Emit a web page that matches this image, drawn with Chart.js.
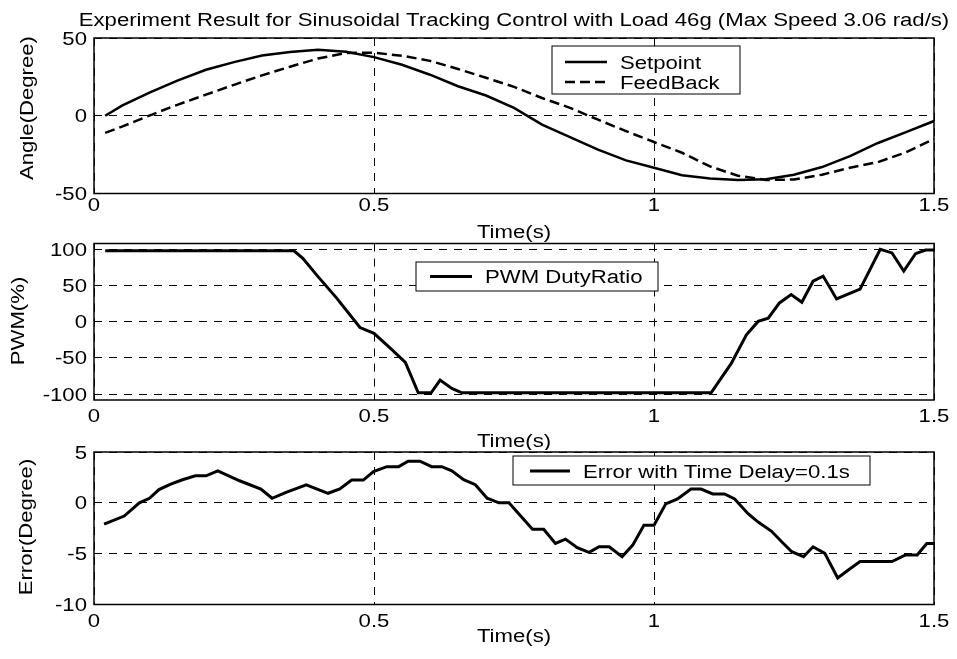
<!DOCTYPE html>
<html>
<head>
<meta charset="utf-8">
<title>Sinusoidal Tracking Control</title>
<script src="https://cdn.jsdelivr.net/npm/chart.js@4.4.1/dist/chart.umd.min.js"></script>
<style>
  html, body { margin: 0; padding: 0; background: #fff; }
  #wrap { position: relative; width: 957px; height: 659px; }
  canvas { position: absolute; left: 0; }
</style>
</head>
<body>
<div id="wrap">
  <canvas id="angle" width="957" height="242" style="top:0px"></canvas>
  <canvas id="pwm" width="957" height="210" style="top:240px"></canvas>
  <canvas id="err" width="957" height="219" style="top:440px"></canvas>
</div>
<script>
// angle panel: setpoint vs feedback (degree)
const timeAngle = [0.02, 0.05, 0.1, 0.15, 0.2, 0.25, 0.3, 0.35, 0.4, 0.45, 0.5, 0.55, 0.6, 0.65, 0.7, 0.75,
                   0.8, 0.85, 0.9, 0.95, 1.0, 1.05, 1.1, 1.15, 1.2, 1.25, 1.3, 1.35, 1.4, 1.45, 1.5];
const setpoint = [0, 6.5, 15, 22.8, 29.6, 34.5, 38.8, 41, 42.5, 41.2, 37.7, 32.8, 26.4, 19, 13, 5,
                  -5.7, -13.7, -21.8, -28.7, -33.4, -38.3, -40.4, -41.3, -40.9, -37.9, -33, -26, -17.5, -10.5, -3.4];
const feedback = [-11, -7, 0.3, 7.2, 13.6, 19.9, 26, 31.5, 36.8, 40.4, 40.5, 38.6, 35.3, 30.1, 24.4, 18.6,
                  11.4, 5.1, -2.5, -9.9, -16.9, -23.8, -32.6, -38.6, -41.3, -41, -37.9, -33.4, -29.8, -23.5, -15];

// pwm panel (%)
const timePwm = [0.02, 0.357, 0.373, 0.397, 0.433, 0.475, 0.5, 0.529, 0.556, 0.579, 0.602, 0.618, 0.639, 0.657,
                 1.102, 1.138, 1.165, 1.186, 1.204, 1.224, 1.245, 1.264, 1.284, 1.302, 1.326, 1.368, 1.404,
                 1.425, 1.446, 1.467, 1.485, 1.5];
const pwmDuty = [98, 98, 87.5, 65, 33, -8, -16, -36.5, -56, -98, -98, -80.5, -92, -98,
                 -98, -57.5, -18, 0.5, 5, 26, 37.5, 27, 56, 63, 31.5, 45, 100,
                 95, 70, 94, 99, 99];

// tracking error panel (degree)
const timeErr = [0.018, 0.054, 0.081, 0.099, 0.116, 0.137, 0.158, 0.181, 0.2, 0.221, 0.26, 0.298, 0.318, 0.343,
                 0.379, 0.418, 0.439, 0.46, 0.481, 0.499, 0.523, 0.544, 0.561, 0.582, 0.603, 0.621, 0.639, 0.66,
                 0.681, 0.702, 0.723, 0.741, 0.783, 0.803, 0.824, 0.842, 0.863, 0.884, 0.902, 0.92, 0.943, 0.962,
                 0.982, 1.0, 1.021, 1.042, 1.066, 1.084, 1.105, 1.126, 1.144, 1.168, 1.186, 1.21, 1.228, 1.246,
                 1.267, 1.284, 1.305, 1.328, 1.347, 1.368, 1.389, 1.425, 1.449, 1.47, 1.487, 1.5];
const errDelay = [-2.1, -1.3, 0, 0.45, 1.3, 1.85, 2.27, 2.66, 2.66, 3.15, 2.17, 1.36, 0.45, 1.03,
                  1.78, 0.94, 1.36, 2.24, 2.24, 3.08, 3.56, 3.56, 4.09, 4.09, 3.56, 3.56, 3.15, 2.27,
                  1.78, 0.45, 0, 0, -2.6, -2.6, -4, -3.57, -4.42, -4.87, -4.32, -4.32, -5.3, -4.16,
                  -2.2, -2.2, -0.1, 0.39, 1.36, 1.36, 0.88, 0.88, 0.39, -1.07, -1.89, -2.8, -3.83, -4.81,
                  -5.3, -4.32, -4.97, -7.4, -6.6, -5.78, -5.78, -5.78, -5.13, -5.13, -4, -4];

// tick labels
const timeTicks = [0, 0.5, 1, 1.5];
const angleTicks = [-50, 0, 50];
const pwmTicks = [-100, -50, 0, 50, 100];
const errTicks = [-10, -5, 0, 5];

const SX = 1.23;  // wide glyphs
const FONT = '18px "Liberation Sans", Arial, sans-serif';

function putText(ctx, str, x, y, align, rotate) {
  ctx.save();
  ctx.translate(x, y);
  if (rotate) ctx.rotate(-Math.PI / 2);
  ctx.scale(SX, 1);
  ctx.font = FONT;
  ctx.fillStyle = '#000';
  ctx.textAlign = align;
  ctx.textBaseline = rotate ? 'middle' : 'alphabetic';
  ctx.fillText(str, 0, 0);
  ctx.restore();
}

const pts = (xs, ys) => xs.map((x, i) => ({ x: x, y: ys[i] }));
const fixTicks = list => scale => { scale.ticks = list.map(v => ({ value: v })); };

// frame, tick labels, axis titles and the boxed legend
const axesDeco = {
  id: 'axesDeco',
  afterDraw(chart, args, o) {
    const { ctx, chartArea: a, scales: { x, y } } = chart;
    ctx.save();
    ctx.strokeStyle = '#000';
    ctx.lineWidth = 1.5;
    ctx.strokeRect(a.left, a.top, a.right - a.left, a.bottom - a.top);
    ctx.restore();

    y.ticks.forEach(t => putText(ctx, String(t.value), a.left - 7, y.getPixelForValue(t.value) + 6.5, 'right'));
    x.ticks.forEach(t => putText(ctx, String(t.value), x.getPixelForValue(t.value), a.bottom + o.xTickBase, 'center'));
    putText(ctx, 'Time(s)', (a.left + a.right) / 2, a.bottom + o.xTitleBase, 'center');
    putText(ctx, o.ylabel.text, o.ylabel.x, o.ylabel.y, 'center', true);
    if (o.title) putText(ctx, o.title.text, o.title.x, o.title.y, 'center');

    const lg = o.legend;
    ctx.save();
    ctx.fillStyle = '#fff';
    ctx.strokeStyle = '#000';
    ctx.lineWidth = 1;
    ctx.fillRect(lg.box[0], lg.box[1], lg.box[2] - lg.box[0], lg.box[3] - lg.box[1]);
    ctx.strokeRect(lg.box[0], lg.box[1], lg.box[2] - lg.box[0], lg.box[3] - lg.box[1]);
    chart.data.datasets.forEach((ds, i) => {
      const ry = lg.rows[i];
      ctx.beginPath();
      ctx.lineWidth = ds.borderWidth;
      ctx.setLineDash(ds.borderDash || []);
      ctx.moveTo(lg.line[0], ry);
      ctx.lineTo(lg.line[1], ry);
      ctx.stroke();
      ctx.setLineDash([]);
      putText(ctx, ds.label, lg.textX, ry + 6.5, 'left');
    });
    ctx.restore();
  }
};

function panel(id, datasets, yr, yTicks, layout, deco) {
  return new Chart(document.getElementById(id), {
    type: 'line',
    data: { datasets: datasets },
    options: {
      responsive: false,
      animation: false,
      events: [],
      devicePixelRatio: 1,
      layout: { padding: { top: layout.top, right: 23, left: 0, bottom: 0 } },
      elements: { point: { radius: 0 }, line: { tension: 0, borderColor: '#000', fill: false } },
      plugins: { legend: { display: false }, tooltip: { enabled: false }, axesDeco: deco },
      scales: {
        x: {
          type: 'linear', min: 0, max: 1.5,
          afterBuildTicks: fixTicks(timeTicks),
          afterFit: s => { s.height = layout.xh; },
          ticks: { display: false },
          grid: { color: '#000', lineWidth: 1, drawTicks: false },
          border: { display: false, dash: [8, 7] }
        },
        y: {
          type: 'linear', min: yr[0], max: yr[1],
          afterBuildTicks: fixTicks(yTicks),
          afterFit: s => { s.width = 94; },
          ticks: { display: false },
          grid: { color: '#000', lineWidth: 1, drawTicks: false },
          border: { display: false, dash: [8, 7] }
        }
      }
    },
    plugins: [axesDeco]
  });
}

panel('angle', [
  { label: 'Setpoint', data: pts(timeAngle, setpoint), borderColor: '#000', borderWidth: 2.5 },
  { label: 'FeedBack', data: pts(timeAngle, feedback), borderColor: '#000', borderWidth: 2.5, borderDash: [10, 5] }
], [-50, 50], angleTicks, { top: 38, xh: 48.5 }, {
  xTickBase: 17.5, xTitleBase: 44.5,
  ylabel: { text: 'Angle(Degree)', x: 28, y: 108 },
  title: { text: 'Experiment Result for Sinusoidal Tracking Control with Load 46g (Max Speed 3.06 rad/s)', x: 514, y: 26 },
  legend: { box: [552, 46, 740, 94], line: [565, 607], textX: 620, rows: [62, 82] }
});

panel('pwm', [
  { label: 'PWM DutyRatio', data: pts(timePwm, pwmDuty), borderColor: '#000', borderWidth: 3 }
], [-108, 108], pwmTicks, { top: 3.5, xh: 50 }, {
  xTickBase: 21.5, xTitleBase: 47,
  ylabel: { text: 'PWM(%)', x: 19, y: 81 },
  legend: { box: [416, 22, 658, 51], line: [430, 472], textX: 485, rows: [36.5] }
});

panel('err', [
  { label: 'Error with Time Delay=0.1s', data: pts(timeErr, errDelay), borderColor: '#000', borderWidth: 3 }
], [-10, 5], errTicks, { top: 12, xh: 54.5 }, {
  xTickBase: 22.5, xTitleBase: 37,
  ylabel: { text: 'Error(Degree)', x: 27, y: 87 },
  legend: { box: [513, 16, 870, 45], line: [530, 570], textX: 583, rows: [31] }
});
</script>
</body>
</html>
